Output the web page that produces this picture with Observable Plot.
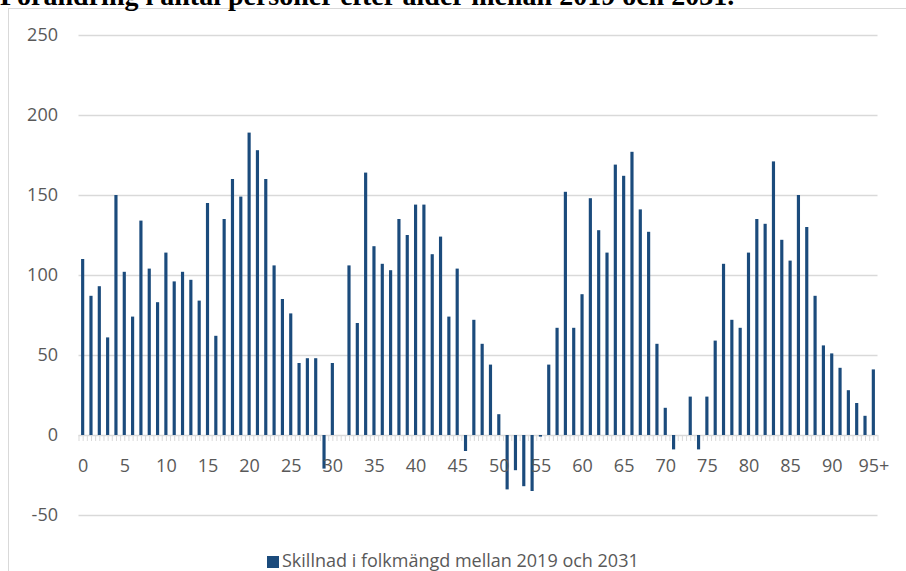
<!DOCTYPE html>
<html>
<head>
<meta charset="utf-8">
<script src="https://cdn.jsdelivr.net/npm/d3@7"></script>
<script src="https://cdn.jsdelivr.net/npm/@observablehq/plot@0.6"></script>
<style>
  html, body { margin: 0; padding: 0; background: #fff; }
  #wrap { position: relative; width: 906px; height: 571px; overflow: hidden; font-family: "Open Sans", sans-serif; }
  #frame { position: absolute; left: 8px; top: 8px; width: 1200px; height: 1200px; border: 1px solid #d9d9d9; box-sizing: border-box; }
  #title { position: absolute; left: 0px; top: -18px; font-family: "Liberation Serif", serif; font-weight: bold; font-size: 28px; line-height: 1; white-space: nowrap; color: #000; }
  #chart { position: absolute; left: 0; top: 0; }
  #legend { position: absolute; left: 267px; top: 549px; font-size: 18px; color: #595959; white-space: nowrap; line-height: 22px; }
  #legend .sw { display: inline-block; width: 12px; height: 12px; background: #1b4b7c; margin-right: 3px; vertical-align: -1px; }
</style>
</head>
<body>
<div id="wrap">
  <div id="frame"></div>
  <div id="title">Förändring i antal personer efter ålder mellan 2019 och 2031.</div>
  <div id="chart"></div>
  <div id="legend"><span class="sw"></span>Skillnad i folkmängd mellan 2019 och 2031</div>
</div>
<script>
const ages = ["0","1","2","3","4","5","6","7","8","9",
  "10","11","12","13","14","15","16","17","18","19",
  "20","21","22","23","24","25","26","27","28","29",
  "30","31","32","33","34","35","36","37","38","39",
  "40","41","42","43","44","45","46","47","48","49",
  "50","51","52","53","54","55","56","57","58","59",
  "60","61","62","63","64","65","66","67","68","69",
  "70","71","72","73","74","75","76","77","78","79",
  "80","81","82","83","84","85","86","87","88","89",
  "90","91","92","93","94","95+"];

const values = [110, 87, 93, 61, 150, 102, 74, 134, 104, 83,
  114, 96, 102, 97, 84, 145, 62, 135, 160, 149,
  189, 178, 160, 106, 85, 76, 45, 48, 48, -21,
  45, 0, 106, 70, 164, 118, 107, 103, 135, 125,
  144, 144, 113, 124, 74, 104, -10, 72, 57, 44,
  13, -34, -22, -32, -35, -1, 44, 67, 152, 67,
  88, 148, 128, 114, 169, 162, 177, 141, 127, 57,
  17, -9, 0, 24, -9, 24, 59, 107, 72, 67,
  114, 135, 132, 171, 122, 109, 150, 130, 87, 56,
  51, 42, 28, 20, 12, 41];

const xTickLabels = ["0","5","10","15","20","25","30","35","40","45","50","55","60","65","70","75","80","85","90","95+"];
const yTicks = [-50, 0, 50, 100, 150, 200, 250];
const gridValues = [-50, 50, 100, 150, 200, 250];

const data = ages.map((a, i) => ({age: a, value: values[i]}));

const barColor = "#1b4b7c";
const gray = "#d9d9d9";
const textGray = "#595959";

const W = 906, H = 545, ML = 78.5, MR = 28.5;
const step = (W - ML - MR) / ages.length;

const chart = Plot.plot({
  width: W,
  height: H,
  marginTop: 35,
  marginBottom: 30,
  marginLeft: ML,
  marginRight: MR,
  style: {fontFamily: "'Open Sans', sans-serif", background: "transparent", overflow: "visible"},
  x: {type: "band", domain: ages, paddingInner: 0.62, paddingOuter: 0.31, axis: null},
  y: {domain: [-50, 250], axis: null},
  marks: [
    Plot.ruleY(gridValues, {stroke: gray, strokeWidth: 1.3}),
    Plot.ruleY([0], {stroke: gray, strokeWidth: 1.5}),
    Plot.ruleX(ages, {x: d => d, y1: 0, y2: 0, insetBottom: -6, stroke: gray, strokeWidth: 1}),
    Plot.ruleX(ages, {x: d => d, y1: 0, y2: 0, insetBottom: -6, dx: -step / 2, stroke: gray, strokeWidth: 1}),
    Plot.ruleX(["95+"], {x: d => d, y1: 0, y2: 0, insetBottom: -6, dx: step / 2, stroke: gray, strokeWidth: 1}),
    Plot.barY(data, {x: "age", y: "value", fill: barColor}),
    Plot.axisY(yTicks, {anchor: "left", label: null, tickSize: 0, tickPadding: 21, fontSize: 18, color: textGray, fill: textGray, tickFormat: d => String(d)}),
    Plot.text(xTickLabels, {x: d => d, y: () => 0, dy: 31, fontSize: 18, fill: textGray, textAnchor: "middle"})
  ]
});
document.getElementById("chart").appendChild(chart);
</script>
</body>
</html>
